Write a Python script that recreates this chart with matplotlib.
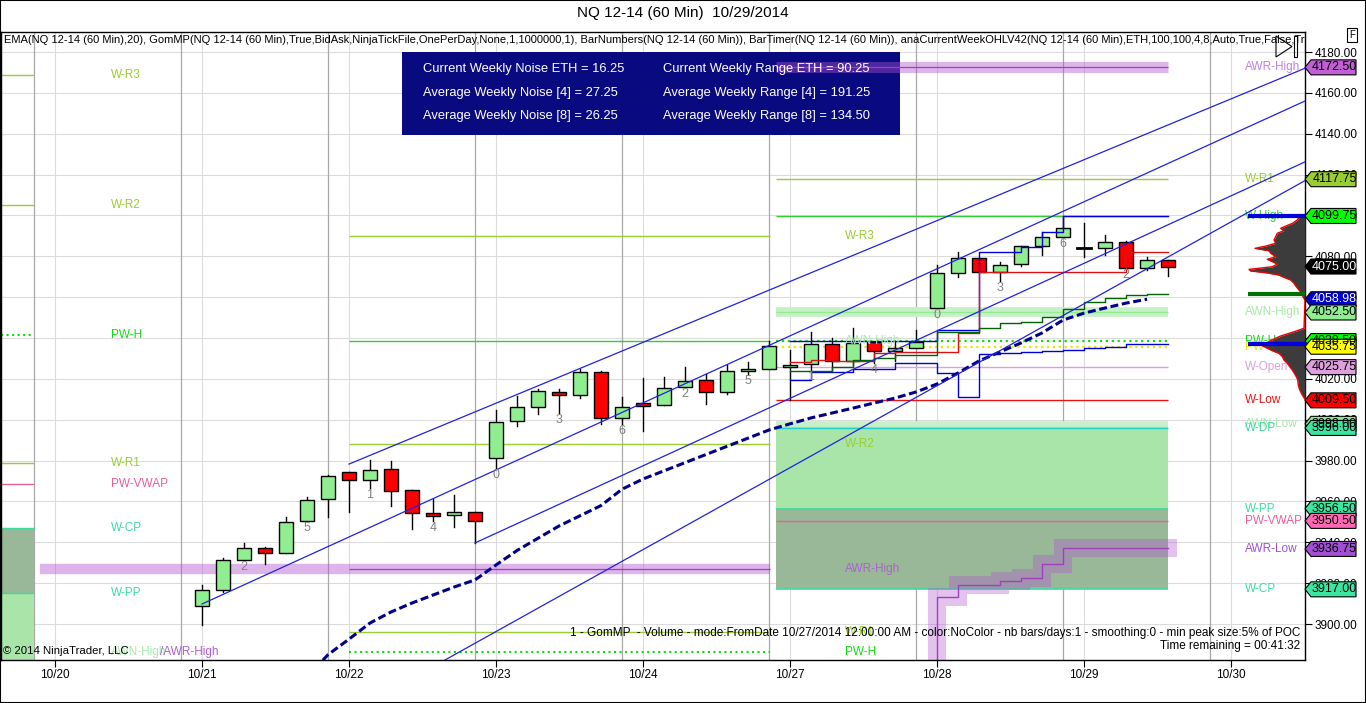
import numpy as np
import matplotlib.pyplot as plt
from matplotlib.patches import Rectangle, Polygon

plt.rcParams['font.family'] = ['Liberation Sans', 'DejaVu Sans']

# x = bar slot (60 min, 7 bars per session), 0 = first bar of 10/21
day_ticks = [-7, 0, 7, 14, 21, 28, 35, 42, 49]
day_labels = ['10/20', '10/21', '10/22', '10/23', '10/24', '10/27', '10/28', '10/29', '10/30']

opens = [3908.8, 3916.5, 3931.2, 3937.1, 3934.6, 3950.3, 3961.1,
         3974.3, 3970.4, 3975.7, 3965.5, 3954.2, 3953.2, 3954.7,
         3981.1, 3999.2, 4006.1, 4013.4, 4012.0, 4023.2, 4000.7,
         4008.0, 4007.2, 4015.9, 4019.3, 4013.4, 4023.7, 4024.7,
         4025.7, 4027.3, 4037.1, 4028.8, 4038.1, 4033.6, 4035.1,
         4054.7, 4071.7, 4079.0, 4072.2, 4076.1, 4084.9, 4089.3,
         4084.1, 4083.9, 4086.9, 4074.1, 4078.0]
highs = [3919.0, 3932.2, 3939.5, 3937.6, 3952.2, 3962.0, 3973.1,
         3974.3, 3980.1, 3979.6, 3965.5, 3961.1, 3963.0, 3954.7,
         4004.6, 4011.5, 4014.9, 4014.9, 4024.7, 4023.7, 4011.0,
         4020.3, 4020.8, 4025.7, 4022.2, 4026.6, 4028.1, 4038.4,
         4034.1, 4043.0, 4040.0, 4045.0, 4038.1, 4038.1, 4044.0,
         4075.6, 4082.0, 4079.0, 4077.1, 4084.9, 4091.9, 4099.7,
         4096.3, 4090.4, 4087.3, 4079.5, 4078.0]
lows = [3899.4, 3915.8, 3931.2, 3929.6, 3934.6, 3950.3, 3952.2,
        3954.7, 3966.4, 3957.6, 3946.4, 3950.3, 3947.4, 3939.5,
        3976.2, 3996.8, 4002.7, 4003.2, 4010.5, 3997.8, 3997.8,
        3994.3, 4007.2, 4015.9, 4007.6, 4012.5, 4022.2, 4024.7,
        4009.7, 4024.4, 4024.4, 4026.8, 4027.8, 4028.8, 4035.1,
        4054.7, 4069.7, 4072.2, 4067.8, 4075.1, 4080.5, 4089.3,
        4079.5, 4080.5, 4074.1, 4073.1, 4070.2]
closes = [3916.5, 3931.2, 3937.1, 3934.6, 3949.8, 3960.6, 3972.3,
          3970.4, 3975.3, 3965.0, 3954.2, 3952.7, 3954.7, 3950.3,
          3998.7, 4006.1, 4013.9, 4012.0, 4023.2, 4000.7, 4006.1,
          4006.6, 4015.4, 4018.8, 4013.4, 4023.7, 4024.7, 4035.9,
          4026.6, 4037.1, 4028.8, 4037.6, 4033.6, 4035.1, 4038.1,
          4071.8, 4079.0, 4072.2, 4075.6, 4084.9, 4089.3, 4093.7,
          4084.1, 4086.9, 4074.1, 4078.0, 4075.0]

# EMA(20), bars 5..45
ema_start = 5
ema = [3874, 3885, 3892.6, 3900.5, 3905.9, 3910.3, 3914.2, 3918.1, 3921.6,
       3928.9, 3936, 3942, 3948, 3953, 3958, 3966, 3971, 3975, 3979, 3983,
       3987, 3991, 3995, 3998, 4000.9, 4003.3, 4005.7, 4008.2, 4010.6,
       4013.6, 4017.5, 4022.9, 4028.8, 4033.2, 4037.6, 4042.5, 4048.8,
       4052.2, 4054.7, 4057.1, 4059.0]

# GomMP developing profile lines, bars 28..46
mp_start = 28
mp_vah = [4038.5, 4038.5, 4038.5, 4038.5, 4038.5, 4038.5, 4038.5, 4044.0, 4044.0,
          4082.1, 4082.1, 4084.6, 4091.9, 4099.7, 4099.7, 4099.7, 4099.7, 4099.7, 4099.7]
mp_val = [4019.5, 4023.4, 4023.4, 4025.0, 4025.0, 4027.8, 4027.8, 4022.9, 4011.1,
          4032.2, 4032.7, 4033.2, 4033.6, 4034.1, 4035.1, 4035.6, 4037.1, 4037.1, 4037.1]
mp_poc = [4028.1, 4029.2, 4028.8, 4028.8, 4032.7, 4033.2, 4033.2, 4033.2, 4042.5,
          4072.2, 4072.2, 4072.2, 4072.2, 4072.2, 4072.2, 4072.2, 4082.0, 4082.0, 4082.0]
mp_vwap = [4023.9, 4023.9, 4026.0, 4029.2, 4030.4, 4031.7, 4031.7, 4042.8, 4042.8,
           4044.8, 4047.2, 4048.0, 4050.5, 4054.0, 4057.8, 4059.7, 4061.1, 4061.4, 4061.4]

# AWR-Low, bars 33..46
awr_low_start = 33
awr_low = [3860, 3860, 3913.4, 3919.1, 3919.1, 3921.0, 3922.4, 3929.4,
           3937.1, 3937.1, 3937.1, 3937.1, 3937.1, 3937.1]

# regression channel lines (bar, price) -> (bar, price)
reg_x0 = [7, 0, 13, 11.5]
reg_p0 = [3978.3, 3909.8, 3939.7, 3882.0]
reg_x1 = [52.6, 52.6, 52.6, 52.6]
reg_p1 = [4172.4, 4156.4, 4126.6, 4117.5]

# volume profile (price, relative size)
vp_price = [4100.2, 4099.1, 4097.8, 4096.1, 4094.8, 4093.7, 4092.5, 4091.3, 4089.6,
            4088.0, 4086.4, 4085.0, 4083.9, 4082.7, 4081.5, 4079.8, 4078.5, 4077.4,
            4076.2, 4074.9, 4073.6, 4072.8, 4072.0, 4070.8, 4069.7, 4068.4, 4066.8,
            4065.1, 4063.5, 4061.9, 4060.2, 4058.6,
            4044.8, 4043.6, 4042.3, 4041.0, 4039.9, 4038.7, 4037.4, 4036.2, 4035.0,
            4033.8, 4032.5, 4030.9, 4029.2, 4027.6, 4026.0, 4024.3, 4022.7, 4021.1,
            4019.5, 4017.0, 4014.6, 4012.1, 4010.0]
vp_size = [1, 6, 7.7, 12.7, 19.3, 24.3, 21, 27.7, 29.3,
           31, 29.3, 39.3, 50, 36, 34.3, 29.3, 37.7, 32.7,
           27.7, 32.7, 56, 54.3, 39.3, 26, 21, 14.3, 11,
           8.7, 6, 3.3, 2, 0,
           1, 7.7, 16, 24.3, 29.3, 34.3, 39.3, 42.7, 37.7,
           32.7, 26, 22.7, 21, 17.7, 15.3, 12.7, 10.7, 8.7,
           7.3, 6.7, 5.3, 2.7, 0]

# weekly levels
cw = dict(awr_high=4172.50, r1=4117.75, high=4099.75, awn_high=4052.50, pw_h=4038.50,
          pw_c=4035.75, open=4025.75, low=4009.50, awn_low=3998.00, dp=3996.00,
          pp=3956.50, pw_vwap=3950.50, awr_low=3936.75, cp=3917.00)
pw_r3, pw_wh, pw_r2, pw_awr, pw_r1, pw_ph = 4090.0, 4038.5, 3988.1, 3927.0, 3896.1, 3886.3
ll_r3, ll_r2, ll_pwh, ll_r1, ll_vwap, ll_cp, ll_pp, ll_low = 4168.7, 4105.1, 4041.5, 3978.8, 3968.5, 3947.0, 3915.2, 3870.0
last_price, ema_last = 4075.00, 4058.98

YG, GRN, LIME, PALE, TEAL = '#9acd32', '#32cd32', '#10dd10', '#a8e8a8', '#3cdca0'
PINK, PLUM, PURP, RED, YEL = '#e8609a', '#dda0dd', '#b060d0', '#ee1111', '#e6e600'

fig = plt.figure(figsize=(13.66, 7.03), dpi=100)
ax = fig.add_axes([1 / 1366, 43 / 703, 1304 / 1366, 628 / 703])
xmin, xmax = -9.57, 52.52
ax.set_xlim(xmin, xmax)
ax.set_ylim(3882.4, 4189.8)

yt = np.arange(3900, 4181, 20)
for y in yt:
    ax.axhline(y, color='#dcdcdc', lw=0.8, zorder=0)
for d in day_ticks:
    ax.axvline(d, color='#dcdcdc', lw=0.8, zorder=0)
    ax.axvline(d - 1, color='#a8a8a8', lw=0.9, zorder=0)

# left pane (week before)
a0, a1 = xmin, -8
ax.add_patch(Rectangle((a0, ll_pp), a1 - a0, ll_cp - ll_pp, fc='#98b898', ec='none', zorder=1))
ax.add_patch(Rectangle((a0, ll_low), a1 - a0, ll_pp - ll_low, fc='#a9e5a9', ec='none', zorder=1))
ax.hlines([ll_r3, ll_r2, ll_r1], a0, a1, color=YG, lw=1, zorder=2)
ax.hlines(ll_pwh, a0, a1, color=LIME, lw=1.5, ls=':', zorder=2)
ax.hlines(ll_vwap, a0, a1, color=PINK, lw=1, zorder=2)
ax.hlines([ll_cp, ll_pp], a0, a1, color=TEAL, lw=1, zorder=2)
for txt, p, c in [('W-R3', ll_r3, YG), ('W-R2', ll_r2, YG), ('PW-H', ll_pwh, LIME),
                  ('W-R1', ll_r1, YG), ('PW-VWAP', ll_vwap, PINK), ('W-CP', ll_cp, TEAL),
                  ('W-PP', ll_pp, TEAL), ('AWN-High', pw_ph, PALE)]:
    ax.text(-4.33, p, txt, color=c, fontsize=8.5, va='center', zorder=6)
ax.text(-2.0, pw_ph, '/AWR-High', color=PURP, fontsize=8.5, va='center', zorder=6)

# previous week levels
b0, b1 = 7, 27.05
ax.hlines(pw_awr, -7.7, b1, color='#b050d0', alpha=0.42, lw=7.5, zorder=2)
ax.hlines(pw_awr, b0, b1, color='#a040c0', lw=0.9, zorder=2)
ax.hlines([pw_r3, pw_r2, pw_r1], b0, b1, color=YG, lw=1, zorder=2)
ax.hlines(pw_wh, b0, b1, color=GRN, lw=1, zorder=2)
ax.hlines(pw_ph, b0, b1, color=LIME, lw=1.5, ls=':', zorder=2)
for txt, p, c in [('W-R3', pw_r3, YG), ('AWN-High', pw_wh, PALE), ('W-R2', pw_r2, YG),
                  ('AWR-High', pw_awr, PURP), ('W-R1', pw_r1, YG), ('PW-H', pw_ph, LIME)]:
    ax.text(30.6, p, txt, color=c, fontsize=8.5, va='center', zorder=6)

# current week levels
c0, c1 = 27.33, 46
ax.add_patch(Rectangle((c0, cw['pp']), c1 - c0, cw['awn_low'] - cw['pp'], fc='#a9e5a9', ec='none', zorder=1))
ax.add_patch(Rectangle((c0, cw['cp']), c1 - c0, cw['pp'] - cw['cp'], fc='#98b898', ec='none', zorder=1))
ax.hlines(cw['awr_high'], c0, c1, color='#b050d0', alpha=0.42, lw=8, zorder=4)
ax.hlines(cw['awr_high'], c0, c1, color='#a040c0', lw=0.9, zorder=4)
ax.hlines(cw['awn_high'], c0, c1, color='#c8f0c8', lw=7, zorder=2)
ax.hlines(cw['awn_high'], c0, c1, color='#90ee90', lw=1, zorder=2)
ax.hlines(cw['awn_low'], c0, c1, color='#c8f0c8', lw=4, zorder=2)
ax.hlines(cw['r1'], c0, c1, color=YG, lw=1, zorder=2)
ax.hlines(cw['high'], c0, c1, color=GRN, lw=1, zorder=2)
ax.hlines(cw['pw_h'], c0, c1, color=LIME, lw=1.6, ls=':', zorder=2)
ax.hlines(cw['pw_c'], c0, c1, color=YEL, lw=1.6, ls=':', zorder=2)
ax.hlines(cw['open'], c0, c1, color=PLUM, lw=1, zorder=2)
ax.hlines(cw['low'], c0, c1, color=RED, lw=1, zorder=2)
ax.hlines(cw['dp'], c0, c1, color='#20d0d0', lw=1, zorder=2)
ax.hlines([cw['pp'], cw['cp']], c0, c1, color=TEAL, lw=1.2, zorder=2)
ax.hlines(cw['pw_vwap'], c0, c1, color=PINK, lw=1, zorder=2)
xs = np.arange(awr_low_start, awr_low_start + len(awr_low))
ax.plot(xs, awr_low, drawstyle='steps-post', color='#b050d0', alpha=0.35, lw=13,
        solid_joinstyle='miter', zorder=2)
ax.plot(xs, awr_low, drawstyle='steps-post', color='#a040c0', lw=1, zorder=2)

right_labels = [('AWR-High', cw['awr_high'], '#c080e0'), ('W-R1', cw['r1'], YG),
                ('W-High', cw['high'], GRN), ('AWN-High', cw['awn_high'], PALE),
                ('PW-H', cw['pw_h'], LIME), ('PW-C', cw['pw_c'], YEL),
                ('W-Open', cw['open'], PLUM), ('W-Low', cw['low'], RED),
                ('AWN-Low', cw['awn_low'], PALE), ('W-DP', cw['dp'], TEAL),
                ('W-PP', cw['pp'], TEAL), ('PW-VWAP', cw['pw_vwap'], PINK),
                ('AWR-Low', cw['awr_low'], '#a050d0'), ('W-CP', cw['cp'], TEAL)]
for txt, p, c in right_labels:
    ax.text(49.67, p, txt, color=c, fontsize=8.5, va='center', zorder=6)

# regression channel
for x0, p0, x1, p1 in zip(reg_x0, reg_p0, reg_x1, reg_p1):
    ax.plot([x0, x1], [p0, p1], color='#2222dd', lw=0.9, zorder=6)

# GomMP lines
xm = np.arange(mp_start, mp_start + len(mp_vah))
ax.plot(xm, mp_vah, drawstyle='steps-post', color='#0000dd', lw=1, zorder=5.5)
ax.plot(xm, mp_val, drawstyle='steps-post', color='#0000dd', lw=1, zorder=5.5)
ax.plot(xm, mp_poc, drawstyle='steps-post', color='#dd1111', lw=1, zorder=5.5)
ax.plot(xm, mp_vwap, drawstyle='steps-post', color='#006400', lw=1, zorder=5.5)
ax.hlines([mp_vah[-1], mp_val[-1]], 49.8, xmax, color='#0000dd', lw=3, zorder=7)
ax.hlines(mp_vwap[-1], 49.8, xmax, color='#007000', lw=3, zorder=7)

# EMA
ax.plot(np.arange(ema_start, ema_start + len(ema)), ema, color='#00008b', lw=2.2,
        ls=(0, (2.6, 1.2)), zorder=5.5)

# candles
for i, (o, h, l, c) in enumerate(zip(opens, highs, lows, closes)):
    ax.plot([i, i], [l, h], color='black', lw=1, zorder=5)
    if c > o:
        fc = '#90ee90'
    elif c < o:
        fc = '#ff0000'
    else:
        ax.plot([i - 0.33, i + 0.33], [o, o], color='black', lw=2, zorder=5)
        continue
    ax.add_patch(Rectangle((i - 0.333, min(o, c)), 0.667, abs(c - o), fc=fc, ec='black', lw=1, zorder=5))

# bar numbers
for i, l in enumerate(lows):
    if i % 3 == 2:
        ax.text(i, l - 0.5, str(i % 7), color='#808080', fontsize=9, ha='center', va='top', zorder=7)

# volume profile
vp_w = np.array(vp_size) / 21.0
ax.fill_betweenx(vp_price, xmax - vp_w, xmax, color='#3c3c3c', lw=0, zorder=6.5)
ax.plot(xmax - vp_w, vp_price, color='#ee0000', lw=1, zorder=6.6)

# info box
ax.add_patch(Rectangle((0.3075, 0.836), 0.3819, 0.1322, transform=ax.transAxes,
                       fc='#0a0a80', ec='none', zorder=3.5))
info_left = ['Current Weekly Noise ETH = 16.25', 'Average Weekly Noise [4] = 27.25',
             'Average Weekly Noise [8] = 26.25']
info_right = ['Current Weekly Range ETH = 90.25', 'Average Weekly Range [4] = 191.25',
              'Average Weekly Range [8] = 134.50']
for k, yy in enumerate([0.9411, 0.9029, 0.8662]):
    ax.text(0.3236, yy, info_left[k], color='white', fontsize=9.3, va='center',
            transform=ax.transAxes, zorder=4.5)
    ax.text(0.5077, yy, info_right[k], color='white', fontsize=9.3, va='center',
            transform=ax.transAxes, zorder=4.5)

ax.text(0.002, 0.987, 'EMA(NQ 12-14 (60 Min),20), GomMP(NQ 12-14 (60 Min),True,BidAsk,'
        'NinjaTickFile,OnePerDay,None,1,1000000,1), BarNumbers(NQ 12-14 (60 Min)), '
        'BarTimer(NQ 12-14 (60 Min)), anaCurrentWeekOHLV42(NQ 12-14 (60 Min),ETH,100,100,'
        '4,8,Auto,True,False,True,True)', fontsize=8.0, va='center', transform=ax.transAxes,
        clip_on=True, zorder=8)
ax.text(0.9962, 0.043, '1 - GomMP  - Volume - mode:FromDate 10/27/2014 12:00:00 AM - '
        'color:NoColor - nb bars/days:1 - smoothing:0 - min peak size:5% of POC',
        fontsize=8.5, ha='right', va='center', transform=ax.transAxes, zorder=8)
ax.text(0.9962, 0.0223, 'Time remaining = 00:41:32', fontsize=8.5, ha='right',
        va='center', transform=ax.transAxes, zorder=8)
ax.text(0.0015, 0.0143, '\u00a9 2014 NinjaTrader, LLC', fontsize=8.2, va='center',
        transform=ax.transAxes, zorder=8)

# axes
ax.yaxis.tick_right()
ax.set_yticks(yt, ['%.2f' % v for v in yt])
ax.set_xticks(day_ticks, day_labels)
ax.tick_params(axis='y', direction='out', length=5, labelsize=8.5, pad=2)
ax.tick_params(axis='x', direction='out', length=5, labelsize=8.5, pad=1.5)
for s in ax.spines.values():
    s.set_color('black')
    s.set_linewidth(1)

fig.text(0.5, 1 - 13 / 703, 'NQ 12-14 (60 Min)  10/29/2014', ha='center', va='center', fontsize=11)

# price markers on the right axis
W, H = fig.bbox.width, fig.bbox.height
tags = [(cw['awr_high'], '#c35fd4', 'black'), (cw['r1'], YG, 'black'),
        (cw['high'], '#00ff00', 'black'), (last_price, 'black', 'white'),
        (ema_last, '#0000cd', 'white'), (cw['awn_high'], '#90ee90', 'black'),
        (cw['pw_h'], '#00ff00', 'black'), (cw['pw_c'], '#ffff00', 'black'),
        (cw['open'], '#dda0dd', 'black'), (cw['low'], '#ff0000', 'black'),
        (cw['awn_low'], '#90ee90', 'black'), (cw['dp'], '#3ce6a0', 'black'),
        (cw['pp'], '#3ce6a0', 'black'), (cw['pw_vwap'], '#ff69b4', 'black'),
        (cw['awr_low'], '#a050d0', 'black'), (cw['cp'], '#3ce6a0', 'black')]
for p, fc, tc in tags:
    x0, y0 = ax.transData.transform((xmax, p))
    verts = [(x0, y0), (x0 + 6, y0 + 7.5), (x0 + 51, y0 + 7.5), (x0 + 51, y0 - 7.5), (x0 + 6, y0 - 7.5)]
    fig.add_artist(Polygon([(vx / W, vy / H) for vx, vy in verts], closed=True, fc=fc,
                           ec='black', lw=0.8, transform=fig.transFigure, zorder=10))
    fig.text((x0 + 29.5) / W, y0 / H, '%.2f' % p, color=tc, ha='center', va='center',
             fontsize=9, zorder=11)

# chart trader buttons
fig.text(1352 / 1366, 1 - 35 / 703, 'F', fontsize=7, ha='center', va='center',
         bbox=dict(boxstyle='square,pad=0.25', fc='white', ec='black', lw=0.8))
fig.add_artist(Polygon([(1276 / 1366, 1 - 36 / 703), (1276 / 1366, 1 - 57 / 703),
                        (1292 / 1366, 1 - 46.5 / 703)], closed=True, fill=False,
                       ec='black', lw=0.8, transform=fig.transFigure))
fig.add_artist(Rectangle((1294 / 1366, 1 - 57 / 703), 3 / 1366, 21 / 703, fill=False,
                         ec='black', lw=0.8, transform=fig.transFigure))
fig.add_artist(Rectangle((0, 0), 1, 1, transform=fig.transFigure, fill=False, ec='black', lw=1.5))

fig.savefig('out.png', dpi=100)
